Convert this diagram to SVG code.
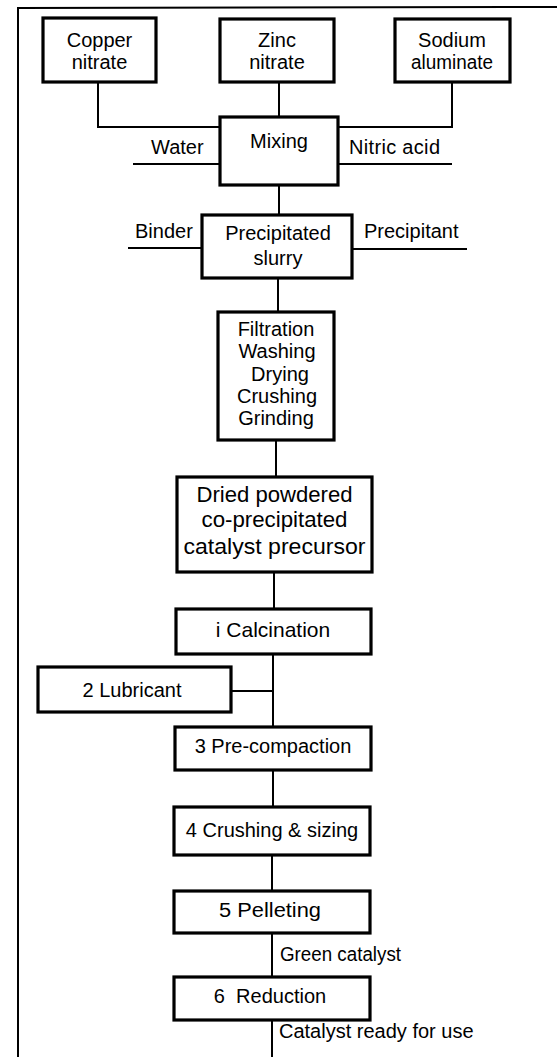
<svg xmlns="http://www.w3.org/2000/svg" width="557" height="1057" viewBox="0 0 557 1057">
<style>
.box{fill:#fff;stroke:#000;stroke-width:3.2}
.ln{fill:none;stroke:#000;stroke-width:2}
text{font-family:"Liberation Sans",Arial,Helvetica,sans-serif;font-size:20px;fill:#000}
.c{text-anchor:middle}
.big{font-size:22px}
</style>
<rect width="557" height="1057" fill="#fff"/>
<g id="frame">
<path class="ln" d="M18 1057 L18 8 L557 7"/>
</g>
<g id="connectors">
<path class="ln" d="M98 82 V127 H220"/>
<path class="ln" d="M279 82 V117"/>
<path class="ln" d="M452 82 V127 H338"/>
<path class="ln" d="M133 164 H220"/>
<path class="ln" d="M338 164 H452"/>
<path class="ln" d="M279 185 V215"/>
<path class="ln" d="M128 248 H202"/>
<path class="ln" d="M352 249 H467"/>
<path class="ln" d="M278 278 V312"/>
<path class="ln" d="M276 440 V477"/>
<path class="ln" d="M274 572 V609"/>
<path class="ln" d="M273 654 V727"/>
<path class="ln" d="M231 691 H273"/>
<path class="ln" d="M273 770 V807"/>
<path class="ln" d="M272 855 V891"/>
<path class="ln" d="M272 933 V977"/>
<path class="ln" d="M272 1020 V1057"/>
<text x="135" y="238">Binder</text>
<text x="364" y="238">Precipitant</text>
<text x="151" y="154">Water</text>
<text x="349" y="154" textLength="91" lengthAdjust="spacing">Nitric acid</text>
<text x="280" y="961" textLength="121" lengthAdjust="spacingAndGlyphs">Green catalyst</text>
<text x="279" y="1038">Catalyst ready for use</text>
</g>
<g id="copper"><rect class="box" x="43" y="18" width="113" height="64"/><text class="c" x="99.5" y="47">Copper</text><text class="c" x="99.5" y="69">nitrate</text></g>
<g id="zinc"><rect class="box" x="220" y="19" width="114" height="63"/><text class="c" x="277" y="47">Zinc</text><text class="c" x="277" y="69">nitrate</text></g>
<g id="sodium"><rect class="box" x="395" y="19" width="115" height="63"/><text class="c" x="452" y="47">Sodium</text><text class="c" x="452" y="69" textLength="82" lengthAdjust="spacingAndGlyphs">aluminate</text></g>
<g id="mixing"><rect class="box" x="220" y="117" width="118" height="68"/><text class="c" x="279" y="148">Mixing</text></g>
<g id="slurry"><rect class="box" x="202" y="215" width="150" height="63"/><text class="c" x="278" y="240">Precipitated</text><text class="c" x="278" y="265">slurry</text></g>
<g id="filtration"><rect class="box" x="218" y="312" width="116" height="128"/>
<text class="c" x="276" y="336">Filtration</text>
<text class="c" x="277" y="358">Washing</text>
<text class="c" x="280" y="381">Drying</text>
<text class="c" x="277" y="403">Crushing</text>
<text class="c" x="276" y="425">Grinding</text></g>
<g id="dried"><rect class="box" x="177" y="477" width="195" height="95"/>
<text class="c big" x="274.5" y="502" textLength="156" lengthAdjust="spacingAndGlyphs">Dried powdered</text>
<text class="c big" x="274.5" y="527" textLength="146" lengthAdjust="spacingAndGlyphs">co-precipitated</text>
<text class="c big" x="274.5" y="554" textLength="182" lengthAdjust="spacingAndGlyphs">catalyst precursor</text></g>
<g id="calcination"><rect class="box" x="176" y="609" width="195" height="45"/><text class="c" x="273" y="637" style="font-size:21px">i Calcination</text></g>
<g id="lubricant"><rect class="box" x="38" y="667" width="193" height="45"/><text class="c" x="132" y="697">2 Lubricant</text></g>
<g id="precompaction"><rect class="box" x="175" y="727" width="196" height="43"/><text class="c" x="273" y="753">3 Pre-compaction</text></g>
<g id="crushing"><rect class="box" x="174" y="807" width="196" height="48"/><text class="c" x="272" y="837">4 Crushing &amp; sizing</text></g>
<g id="pelleting"><rect class="box" x="174" y="891" width="196" height="42"/><text class="c" x="270" y="917" textLength="102" lengthAdjust="spacingAndGlyphs">5 Pelleting</text></g>
<g id="reduction"><rect class="box" x="174" y="977" width="196" height="43"/><text class="c" x="270" y="1003" xml:space="preserve">6  Reduction</text></g>
</svg>
